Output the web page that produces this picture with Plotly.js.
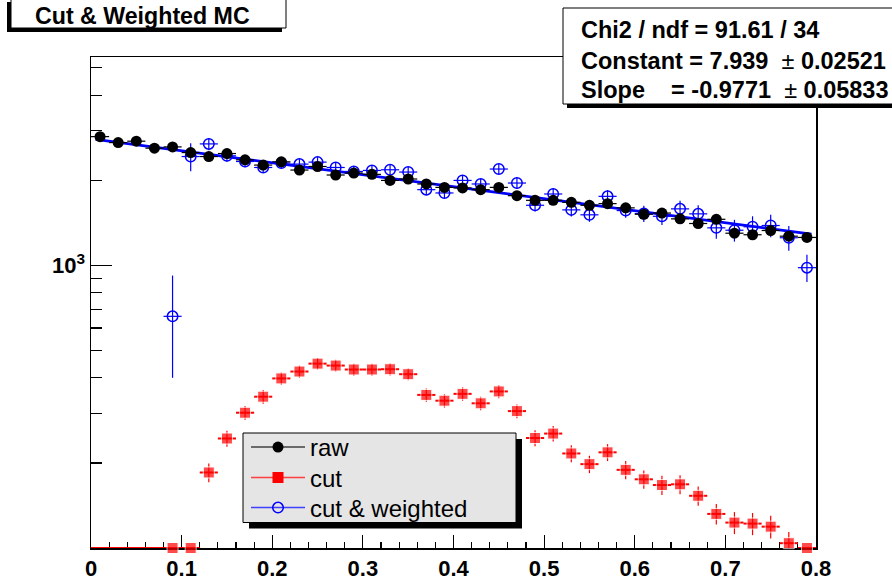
<!DOCTYPE html>
<html>
<head>
<meta charset="utf-8">
<script src="https://cdn.plot.ly/plotly-3.0.1.min.js"></script>
<style>html,body{margin:0;padding:0;background:#fff;}#chart{width:892px;height:583px;}</style>
</head>
<body>
<div id="chart"></div>
<script>
// ---- data ----
const binCenters = [0.01,0.03,0.05,0.07,0.09,0.11,0.13,0.15,0.17,0.19,
                    0.21,0.23,0.25,0.27,0.29,0.31,0.33,0.35,0.37,0.39,
                    0.41,0.43,0.45,0.47,0.49,0.51,0.53,0.55,0.57,0.59,
                    0.61,0.63,0.65,0.67,0.69,0.71,0.73,0.75,0.77,0.79];
const binHalfWidth = 0.01;

const rawCounts = [2853,2718,2749,2597,2624,2506,2426,2486,2362,2263,
                   2324,2173,2237,2087,2121,2098,1997,2020,1940,1887,
                   1878,1852,1887,1764,1698,1698,1671,1631,1653,1597,
                   1516,1531,1460,1406,1455,1299,1283,1328,1268,1255];
const rawErrors = [53,52,52,51,51,50,49,50,49,48,
                   48,47,47,46,46,46,45,45,44,43,
                   43,43,43,42,41,41,41,40,41,40,
                   39,39,38,37,38,36,36,36,36,35];

// 0 = empty bin; 100 = drawn on the bottom edge of the frame
const cutCounts = [0,0,0,0,100,100,185,244,301,343,
                   398,421,449,442,428,428,429,412,348,332,
                   351,325,358,305,245,254,216,198,218,189,
                   175,167,168,153,132,123,122,119,104,100];
const cutErrors = [0,0,0,0,0,0,14,16,17,19,
                   20,21,21,21,21,21,21,20,19,18,
                   19,18,19,17,16,16,15,14,15,14,
                   13,13,13,12,11,11,11,11,10,0];

const weightedCounts = [null,null,null,null,660,2426,2689,2440,2330,2219,
                        2300,2281,2318,2219,2148,2166,2178,2138,1852,1803,
                        1997,1940,2191,1955,1631,1788,1571,1509,1754,1562,
                        1524,1491,1584,1521,1357,1331,1369,1383,1252,981];
const weightedErrors = [0,0,0,0,260,275,135,115,105,98,
                        97,95,95,92,90,90,90,88,82,80,
                        86,85,92,88,82,88,84,84,92,88,
                        100,102,108,110,115,118,122,126,125,108];

const fitConstant = 7.939;
const fitSlope = -0.9771;
const fitRange = [0.005, 0.795];

const xTickVals = [0,0.1,0.2,0.3,0.4,0.5,0.6,0.7,0.8];
const xTickText = ['0','0.1','0.2','0.3','0.4','0.5','0.6','0.7','0.8'];
const yMajorVals = [1000];
const yMajorText = ['10<sup>3</sup>'];
const yMinorVals = [200,300,400,500,600,700,800,900,2000,3000,4000,5000];

const titleText = 'Cut &amp; Weighted MC';
const PM = '<span style="font-weight:normal">\u00b1</span>';
const statLines = [
  'Chi2 / ndf = 91.61 / 34',
  'Constant = 7.939 \u00a0' + PM + ' 0.02521',
  'Slope \u00a0\u00a0\u00a0= -0.9771 \u00a0' + PM + ' 0.05833'
];
const legendNames = ['raw','cut','cut &amp; weighted'];

// ---- geometry helpers (pixel -> paper) ----
const L=91, R=816, T=57, B=548;
const px = x => (x-L)/(R-L);
const py = y => (B-y)/(B-T);
const FONT = 'Liberation Sans, Arial, Helvetica, sans-serif';

const cutPlotY = cutCounts.map(v => v > 0 ? v : 100);
const cutMarkerSize = cutCounts.map(v => v > 0 ? 11 : 0);
const fitY = fitRange.map(x => Math.exp(fitConstant + fitSlope*x));

const traces = [
  {x: binCenters, y: weightedCounts, type:'scatter', mode:'markers', showlegend:false,
   marker:{symbol:'circle-open', size:10.5, color:'#0000ff', line:{width:1.5, color:'#0000ff'}},
   error_y:{type:'data', array:weightedErrors, visible:true, color:'#0000ff', thickness:1.2, width:0},
   error_x:{type:'constant', value:binHalfWidth, visible:true, color:'#0000ff', thickness:1.2, width:0}},
  {x: fitRange, y: fitY, type:'scatter', mode:'lines', showlegend:false,
   line:{color:'#0000ff', width:2.8}},
  {x: binCenters, y: rawCounts, type:'scatter', mode:'markers', showlegend:false,
   marker:{symbol:'circle', size:11, color:'#000000'},
   error_y:{type:'data', array:rawErrors, visible:true, color:'#000000', thickness:1.2, width:0},
   error_x:{type:'constant', value:binHalfWidth, visible:true, color:'#000000', thickness:1.2, width:0}},
  {x: binCenters, y: cutPlotY, type:'scatter', mode:'markers', showlegend:false, cliponaxis:false,
   marker:{symbol:'square', size:cutMarkerSize, color:'#ff0000'},
   error_y:{type:'data', array:cutErrors, visible:true, color:'#ff0000', thickness:1.2, width:0},
   error_x:{type:'constant', value:binHalfWidth, visible:true, color:'#ff0000', thickness:2, width:0}},
  // legend entries (one legend per row for exact spacing)
  {x:[null], y:[null], type:'scatter', mode:'lines+markers', name:legendNames[0], legend:'legend',
   line:{color:'#404040', width:1.5}, marker:{symbol:'circle', size:11, color:'#000000'}},
  {x:[null], y:[null], type:'scatter', mode:'lines+markers', name:legendNames[1], legend:'legend2',
   line:{color:'#ff4040', width:1.5}, marker:{symbol:'square', size:11, color:'#ff0000'}},
  {x:[null], y:[null], type:'scatter', mode:'lines+markers', name:legendNames[2], legend:'legend3',
   line:{color:'#4040ff', width:1.5}, marker:{symbol:'circle-open', size:10.5, color:'#0000ff', line:{width:1.5}}}
];

const rect = (x0,y0,x1,y1,fill,line) => ({type:'rect', xref:'paper', yref:'paper', layer:'above',
  x0:px(x0), x1:px(x1), y0:py(y1), y1:py(y0), fillcolor:fill,
  line: line ? {color:'#000000', width:1} : {width:0}});

const shapes = [
  rect(7,2,282,32,'#000000',false),
  rect(11,-3,286,28,'#ffffff',true),
  rect(567,12,900,108,'#000000',false),
  rect(563,8,896,104,'#ffffff',true),
  rect(249,439,522,528.5,'#000000',false),
  rect(243,433,516,522.5,'#e5e5e5',true)
];

const statY = [30, 61, 90];
const annotations = [
  {xref:'paper', yref:'paper', x:px(142.5), y:py(16), xanchor:'center', yanchor:'middle', showarrow:false,
   text:titleText, font:{family:FONT, size:23.2, color:'#000', weight:'bold'}}
].concat(statLines.map((t,i)=>({xref:'paper', yref:'paper', x:px(579), y:py(statY[i]), xanchor:'left', yanchor:'middle',
   showarrow:false, text:t, font:{family:FONT, size:23.5, color:'#000', weight:'bold'}})));

const legendRows = [447.5, 478, 508];
const legendBase = (row) => ({x:px(246), y:py(row), xanchor:'left', yanchor:'middle',
  bgcolor:'rgba(0,0,0,0)', borderwidth:0, font:{family:FONT, size:24, color:'#000'}, itemwidth:54});

const layout = {
  width:892, height:583, autosize:false,
  margin:{l:L, r:892-R, t:T, b:583-B, pad:0},
  paper_bgcolor:'#ffffff', plot_bgcolor:'#ffffff',
  font:{family:FONT, color:'#000'},
  showlegend:true,
  legend:legendBase(legendRows[0]),
  legend2:legendBase(legendRows[1]),
  legend3:legendBase(legendRows[2]),
  xaxis:{range:[0,0.8], showgrid:false, zeroline:false, showline:true, mirror:true, linecolor:'#000', linewidth:1.5,
         ticks:'inside', ticklen:13, tickwidth:1.2, tickcolor:'#000', tickmode:'array', tickvals:xTickVals, ticktext:xTickText,
         minor:{ticks:'inside', ticklen:6, tickwidth:1.2, tickcolor:'#000', dtick:0.02, tick0:0},
         tickfont:{family:FONT, size:22, color:'#000', weight:'bold'}, layer:'below traces', fixedrange:true},
  yaxis:{type:'log', range:[2, 3.737], showgrid:false, zeroline:false, showline:true, mirror:true, linecolor:'#000', linewidth:1.5,
         ticks:'inside', ticklen:21, tickwidth:1.2, tickcolor:'#000', tickmode:'array', tickvals:yMajorVals, ticktext:yMajorText,
         minor:{ticks:'inside', ticklen:11, tickwidth:1.2, tickcolor:'#000', tickmode:'array', tickvals:yMinorVals},
         tickfont:{family:FONT, size:22, color:'#000', weight:'bold'}, layer:'below traces', fixedrange:true},
  shapes:shapes,
  annotations:annotations
};

Plotly.newPlot('chart', traces, layout, {staticPlot:true, displayModeBar:false});
</script>
</body>
</html>
